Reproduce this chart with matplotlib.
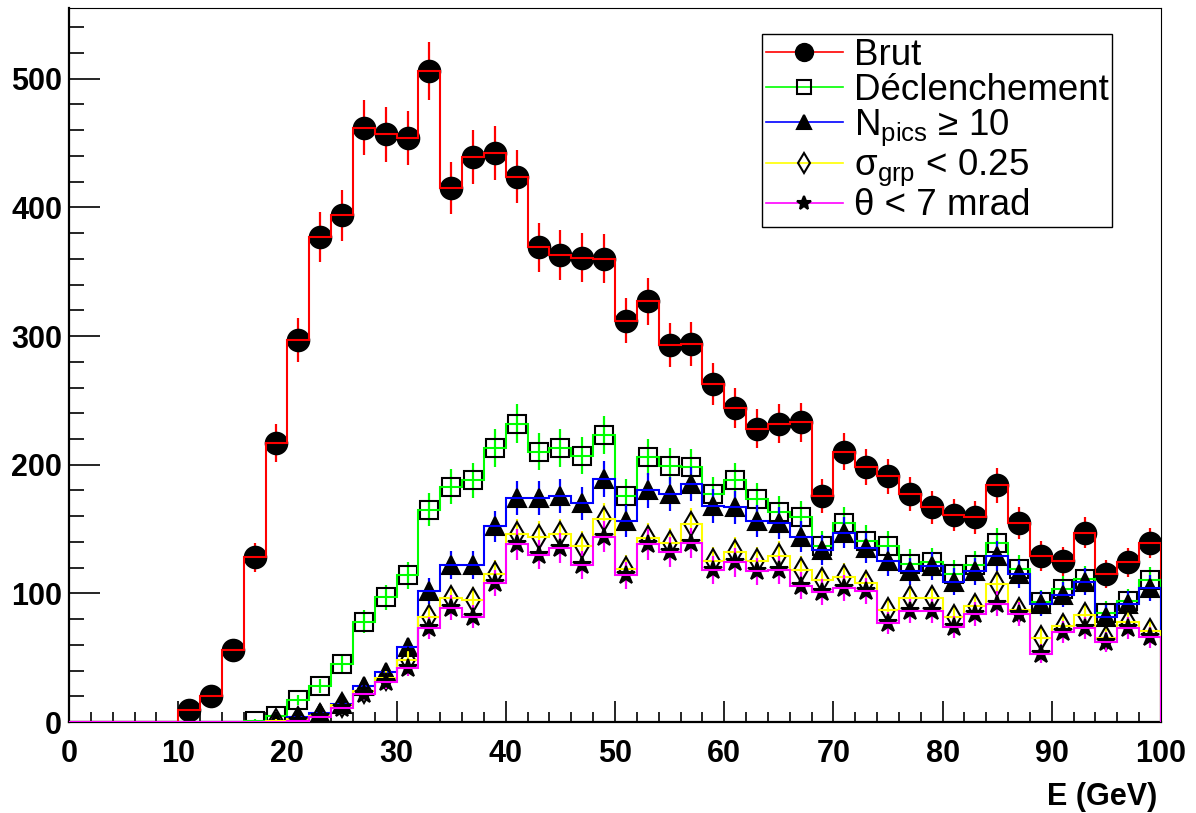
import numpy as np
import matplotlib
matplotlib.use('Agg')
import matplotlib.pyplot as plt
from matplotlib.lines import Line2D
from matplotlib.ticker import MultipleLocator

plt.rcParams['font.family'] = ['Liberation Sans', 'DejaVu Sans']
plt.rcParams['mathtext.default'] = 'regular'

# 50 bins of 2 GeV, 0-100
edges = np.arange(0, 102, 2)

brut = [0, 0, 0, 0, 0, 9, 20, 56, 128, 217,
        297, 377, 394, 462, 457, 454, 506, 415, 439, 442,
        424, 369, 363, 361, 360, 312, 327, 293, 294, 263,
        244, 228, 232, 233, 176, 210, 198, 191, 177, 167,
        161, 159, 184, 155, 129, 125, 147, 115, 124, 139]
declenchement = [0, 0, 0, 0, 0, 0, 0, 0, 1, 5,
                 17, 28, 45, 78, 97, 114, 165, 183, 188, 213,
                 232, 210, 213, 207, 223, 176, 206, 199, 198, 177,
                 188, 173, 163, 159, 137, 155, 141, 137, 123, 124,
                 115, 122, 139, 119, 93, 103, 111, 85, 94, 110]
npics = [0, 0, 0, 0, 0, 0, 0, 0, 0, 1,
         4, 7, 14, 28, 39, 58, 102, 122, 122, 152,
         174, 174, 176, 170, 189, 156, 180, 177, 185, 168,
         167, 156, 155, 144, 134, 147, 135, 125, 117, 121,
         109, 117, 129, 115, 92, 99, 109, 82, 92, 104]
sigma_grp = [0, 0, 0, 0, 0, 0, 0, 0, 0, 1,
             2, 5, 13, 24, 34, 48, 82, 96, 95, 115,
             146, 144, 146, 137, 158, 119, 143, 139, 154, 125,
             132, 125, 129, 118, 110, 113, 108, 87, 96, 96,
             82, 90, 107, 87, 65, 75, 83, 65, 78, 71]
theta = [0, 0, 0, 0, 0, 0, 0, 0, 0, 0,
         1, 4, 11, 22, 31, 42, 73, 89, 82, 108,
         138, 130, 135, 122, 144, 114, 138, 132, 139, 118,
         124, 117, 118, 106, 101, 104, 102, 77, 86, 86,
         74, 84, 92, 84, 53, 70, 73, 62, 73, 66]

labels = ['Brut', 'Déclenchement', r'N$_{pics}$ ≥ 10',
          r'σ$_{grp}$ < 0.25', 'θ < 7 mrad']
colors = ['#ff0000', '#00ff00', '#0000ff', '#ffff00', '#ff00ff']
markers = ['o', 's', '^', 'd', '*']
msizes = [15.5, 12.5, 13, 12.5, 13.5]
filled = [True, False, True, False, True]

fig = plt.figure(figsize=(11.96, 8.13), dpi=100)
ax = fig.add_axes([69 / 1196, 91 / 813, 1092 / 1196, 714 / 813])

centers = 0.5 * (edges[:-1] + edges[1:])
handles = []
for k, vals in enumerate([brut, declenchement, npics, sigma_grp, theta]):
    v = np.array(vals, dtype=float)
    m = v > 0
    z = 2 + 3 * k
    err = np.sqrt(v[m])
    ax.vlines(centers[m], v[m] - err, v[m] + err, color=colors[k], lw=1.6, zorder=z)
    fc = 'black' if filled[k] else 'none'
    ax.plot(centers[m], v[m], ls='none', marker=markers[k], ms=msizes[k],
            mfc=fc, mec='black', mew=1.5, zorder=z + 1)
    ax.stairs(v, edges, color=colors[k], lw=1.5, zorder=z + 2)
    handles.append(Line2D([], [], color=colors[k], lw=1.2, marker=markers[k],
                          ms=msizes[k] * 0.8, mfc=fc, mec='black', mew=1.5))

ax.set_xlim(0, 100)
ax.set_ylim(0, 555)
ax.xaxis.set_major_locator(MultipleLocator(10))
ax.xaxis.set_minor_locator(MultipleLocator(2))
ax.yaxis.set_major_locator(MultipleLocator(100))
ax.yaxis.set_minor_locator(MultipleLocator(20))
ax.tick_params(axis='both', which='both', direction='in', width=1.2,
               top=False, right=False)
ax.tick_params(axis='x', which='major', length=15, pad=12)
ax.tick_params(axis='x', which='minor', length=7)
ax.tick_params(axis='y', which='major', length=22, pad=5)
ax.tick_params(axis='y', which='minor', length=11)
for lab in ax.get_xticklabels() + ax.get_yticklabels():
    lab.set_fontsize(22)
    lab.set_fontweight('bold')

ax.spines['left'].set_linewidth(1.6)
ax.spines['bottom'].set_linewidth(1.6)
ax.spines['top'].set_linewidth(0.8)
ax.spines['right'].set_linewidth(0.8)

fig.text(1157 / 1196, 1 - 797 / 813, 'E (GeV)', ha='right', va='center',
         fontsize=22, fontweight='bold')

leg = fig.legend(handles, labels, loc='upper left',
                 bbox_to_anchor=(762 / 1196, 1 - 34 / 813),
                 fontsize=26.5, frameon=True, fancybox=False, framealpha=1,
                 edgecolor='black', borderpad=0.1, labelspacing=0.0,
                 handlelength=2.1, handletextpad=0.3, borderaxespad=0)
leg.get_frame().set_linewidth(1.0)

fig.savefig('out.png', dpi=100)
